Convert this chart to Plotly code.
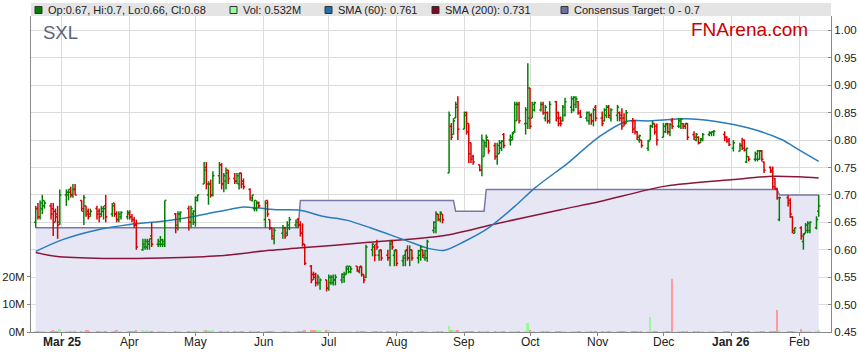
import pandas as pd
import plotly.graph_objects as go

# ---------------- data ----------------
holidays = ["2025-04-18", "2025-04-21", "2025-04-25", "2025-06-09",
            "2025-12-25", "2025-12-26", "2026-01-01", "2026-01-26"]

opens = [
    0.65, 0.675, 0.66, 0.675, 0.68, 0.68, 0.675, 0.67, 0.665, 0.65,
    0.70, 0.70, 0.705, 0.70, 0.71, 0.69, 0.67, 0.68, 0.67, 0.665, 0.675, 0.67, 0.665, 0.67, 0.68, 0.665, 0.685, 0.665, 0.655, 0.66, 0.66,
    0.665, 0.66, 0.655, 0.645, 0.60, 0.605, 0.605, 0.61, 0.625, 0.61, 0.61, 0.61, 0.61, 0.665, 0.645, 0.665, 0.675, 0.65, 0.665,
    0.65, 0.69, 0.72, 0.75, 0.70, 0.72, 0.70, 0.735, 0.755, 0.72, 0.725, 0.745, 0.73, 0.725, 0.72, 0.74, 0.725, 0.71, 0.69, 0.675, 0.675, 0.685,
    0.655, 0.69, 0.655, 0.64, 0.62, 0.63, 0.64, 0.63, 0.64, 0.645, 0.655, 0.645, 0.63, 0.61, 0.57, 0.555, 0.555, 0.54, 0.54, 0.545,
    0.53, 0.54, 0.54, 0.545, 0.545, 0.55, 0.555, 0.565, 0.56, 0.57, 0.56, 0.57, 0.555, 0.55, 0.60, 0.605, 0.61, 0.59, 0.60, 0.59, 0.585, 0.615, 0.59,
    0.60, 0.58, 0.59, 0.60, 0.585, 0.60, 0.585, 0.59, 0.60, 0.585, 0.585, 0.635, 0.64, 0.665, 0.655, 0.665, 0.74, 0.825, 0.81, 0.84, 0.86,
    0.82, 0.85, 0.83, 0.795, 0.77, 0.755, 0.745, 0.77, 0.79, 0.80, 0.79, 0.77, 0.775, 0.785, 0.81, 0.80, 0.80, 0.815, 0.835, 0.865, 0.83, 0.83,
    0.895, 0.84, 0.855, 0.855, 0.865, 0.84, 0.85, 0.835, 0.87, 0.85, 0.84, 0.835, 0.845, 0.86, 0.855, 0.865, 0.87, 0.85, 0.84, 0.835, 0.845, 0.835, 0.86,
    0.84, 0.835, 0.845, 0.86, 0.84, 0.845, 0.85, 0.845, 0.84, 0.83, 0.835, 0.835, 0.815, 0.80, 0.80, 0.785, 0.80, 0.825, 0.83, 0.825,
    0.805, 0.815, 0.83, 0.815, 0.835, 0.825, 0.825, 0.83, 0.825, 0.83, 0.81, 0.80, 0.805, 0.795, 0.80, 0.81, 0.813, 0.815, 0.81, 0.805, 0.80,
    0.785, 0.78, 0.79, 0.80, 0.76, 0.77, 0.765, 0.765, 0.765, 0.78, 0.76, 0.75, 0.745, 0.73, 0.71, 0.655, 0.695, 0.69, 0.66, 0.63,
    0.64, 0.615, 0.63, 0.635, 0.635, 0.64, 0.67,
]
highs = [
    0.68, 0.685, 0.69, 0.70, 0.69, 0.685, 0.685, 0.675, 0.68, 0.71,
    0.71, 0.71, 0.715, 0.72, 0.72, 0.69, 0.70, 0.68, 0.675, 0.675, 0.68, 0.675, 0.68, 0.68, 0.70, 0.685, 0.685, 0.67, 0.67, 0.67, 0.672,
    0.672, 0.665, 0.66, 0.655, 0.62, 0.62, 0.62, 0.62, 0.65, 0.62, 0.625, 0.62, 0.69, 0.667, 0.67, 0.67, 0.68, 0.68, 0.672,
    0.697, 0.70, 0.76, 0.76, 0.725, 0.728, 0.743, 0.76, 0.758, 0.74, 0.75, 0.746, 0.74, 0.74, 0.74, 0.74, 0.73, 0.712, 0.70, 0.69, 0.69, 0.688,
    0.69, 0.69, 0.655, 0.64, 0.64, 0.645, 0.642, 0.652, 0.66, 0.655, 0.658, 0.652, 0.648, 0.61, 0.572, 0.56, 0.558, 0.555, 0.548, 0.545,
    0.555, 0.554, 0.555, 0.555, 0.557, 0.56, 0.57, 0.57, 0.57, 0.57, 0.57, 0.57, 0.555, 0.609, 0.612, 0.609, 0.618, 0.60, 0.60, 0.60, 0.618, 0.618, 0.60,
    0.60, 0.59, 0.60, 0.608, 0.608, 0.60, 0.60, 0.608, 0.60, 0.60, 0.618, 0.652, 0.67, 0.665, 0.67, 0.665, 0.852, 0.831, 0.84, 0.87, 0.88,
    0.852, 0.852, 0.83, 0.795, 0.773, 0.755, 0.81, 0.80, 0.81, 0.80, 0.795, 0.795, 0.80, 0.80, 0.813, 0.81, 0.815, 0.87, 0.87, 0.87, 0.86, 0.94,
    0.895, 0.87, 0.87, 0.87, 0.87, 0.864, 0.852, 0.871, 0.871, 0.852, 0.843, 0.864, 0.877, 0.88, 0.88, 0.88, 0.871, 0.855, 0.852, 0.852, 0.849, 0.858, 0.864,
    0.852, 0.858, 0.864, 0.864, 0.858, 0.864, 0.852, 0.858, 0.849, 0.855, 0.84, 0.837, 0.816, 0.81, 0.80, 0.80, 0.828, 0.835, 0.83, 0.83,
    0.831, 0.831, 0.831, 0.831, 0.84, 0.84, 0.84, 0.831, 0.831, 0.831, 0.816, 0.813, 0.807, 0.804, 0.813, 0.816, 0.816, 0.818, 0.816, 0.807, 0.804,
    0.80, 0.795, 0.804, 0.801, 0.786, 0.77, 0.779, 0.782, 0.782, 0.782, 0.761, 0.752, 0.752, 0.731, 0.713, 0.697, 0.70, 0.694, 0.661, 0.64,
    0.643, 0.63, 0.649, 0.652, 0.652, 0.661, 0.70,
]
lows = [
    0.64, 0.655, 0.655, 0.665, 0.675, 0.655, 0.625, 0.65, 0.62, 0.645,
    0.68, 0.69, 0.695, 0.695, 0.70, 0.67, 0.645, 0.66, 0.655, 0.66, 0.655, 0.65, 0.66, 0.655, 0.65, 0.66, 0.66, 0.65, 0.65, 0.655, 0.655,
    0.655, 0.65, 0.64, 0.60, 0.598, 0.60, 0.60, 0.60, 0.605, 0.605, 0.605, 0.605, 0.605, 0.63, 0.635, 0.65, 0.635, 0.64, 0.645,
    0.642, 0.688, 0.72, 0.71, 0.682, 0.695, 0.697, 0.72, 0.71, 0.705, 0.71, 0.72, 0.72, 0.72, 0.71, 0.712, 0.71, 0.69, 0.688, 0.67, 0.67, 0.676,
    0.64, 0.66, 0.636, 0.618, 0.61, 0.62, 0.62, 0.625, 0.636, 0.64, 0.64, 0.624, 0.606, 0.572, 0.539, 0.545, 0.533, 0.535, 0.527, 0.524,
    0.525, 0.536, 0.535, 0.535, 0.539, 0.54, 0.555, 0.557, 0.557, 0.56, 0.557, 0.551, 0.539, 0.548, 0.588, 0.579, 0.60, 0.58, 0.58, 0.58, 0.57, 0.60, 0.57,
    0.57, 0.57, 0.57, 0.58, 0.57, 0.58, 0.575, 0.58, 0.585, 0.58, 0.578, 0.63, 0.63, 0.652, 0.65, 0.648, 0.74, 0.80, 0.81, 0.84, 0.80,
    0.82, 0.81, 0.758, 0.758, 0.755, 0.743, 0.734, 0.77, 0.786, 0.775, 0.764, 0.755, 0.775, 0.78, 0.785, 0.79, 0.80, 0.813, 0.835, 0.83, 0.81, 0.82,
    0.82, 0.84, 0.852, 0.852, 0.846, 0.834, 0.83, 0.83, 0.834, 0.825, 0.825, 0.834, 0.843, 0.849, 0.852, 0.858, 0.846, 0.84, 0.834, 0.828, 0.828, 0.825, 0.834,
    0.825, 0.834, 0.84, 0.84, 0.834, 0.834, 0.834, 0.819, 0.825, 0.83, 0.813, 0.81, 0.80, 0.795, 0.786, 0.78, 0.80, 0.822, 0.81, 0.79,
    0.805, 0.813, 0.81, 0.807, 0.82, 0.822, 0.82, 0.82, 0.82, 0.80, 0.80, 0.798, 0.792, 0.795, 0.798, 0.807, 0.807, 0.807, 0.798, 0.795, 0.789,
    0.779, 0.779, 0.782, 0.779, 0.758, 0.761, 0.761, 0.761, 0.764, 0.761, 0.74, 0.74, 0.71, 0.71, 0.691, 0.652, 0.679, 0.658, 0.63, 0.63,
    0.618, 0.60, 0.63, 0.63, 0.63, 0.637, 0.66,
]
closes = [
    0.675, 0.66, 0.685, 0.69, 0.685, 0.665, 0.65, 0.66, 0.645, 0.70,
    0.705, 0.71, 0.70, 0.71, 0.70, 0.675, 0.695, 0.665, 0.66, 0.67, 0.665, 0.66, 0.675, 0.675, 0.66, 0.68, 0.665, 0.655, 0.665, 0.668, 0.668,
    0.66, 0.655, 0.645, 0.605, 0.61, 0.615, 0.615, 0.62, 0.61, 0.615, 0.618, 0.615, 0.69, 0.64, 0.665, 0.668, 0.65, 0.675, 0.67,
    0.695, 0.70, 0.745, 0.72, 0.72, 0.70, 0.735, 0.755, 0.72, 0.735, 0.74, 0.73, 0.725, 0.735, 0.74, 0.72, 0.715, 0.695, 0.70, 0.69, 0.685, 0.68,
    0.685, 0.665, 0.64, 0.625, 0.635, 0.64, 0.625, 0.645, 0.655, 0.65, 0.645, 0.63, 0.61, 0.575, 0.545, 0.55, 0.54, 0.55, 0.545, 0.53,
    0.55, 0.55, 0.545, 0.55, 0.555, 0.555, 0.57, 0.57, 0.565, 0.562, 0.568, 0.555, 0.545, 0.605, 0.61, 0.59, 0.605, 0.598, 0.585, 0.585, 0.61, 0.605, 0.598,
    0.575, 0.585, 0.598, 0.585, 0.60, 0.585, 0.598, 0.605, 0.59, 0.598, 0.615, 0.65, 0.665, 0.655, 0.668, 0.655, 0.845, 0.805, 0.835, 0.865, 0.82,
    0.845, 0.815, 0.775, 0.765, 0.76, 0.745, 0.80, 0.795, 0.805, 0.78, 0.77, 0.79, 0.795, 0.798, 0.79, 0.805, 0.812, 0.865, 0.865, 0.835, 0.855, 0.84,
    0.825, 0.865, 0.868, 0.865, 0.85, 0.86, 0.835, 0.865, 0.84, 0.83, 0.83, 0.86, 0.87, 0.875, 0.878, 0.875, 0.85, 0.842, 0.85, 0.845, 0.835, 0.855, 0.84,
    0.83, 0.855, 0.86, 0.845, 0.855, 0.86, 0.84, 0.825, 0.83, 0.85, 0.82, 0.815, 0.805, 0.808, 0.79, 0.798, 0.825, 0.83, 0.815, 0.80,
    0.825, 0.828, 0.815, 0.828, 0.825, 0.835, 0.838, 0.825, 0.83, 0.805, 0.805, 0.81, 0.795, 0.802, 0.81, 0.813, 0.815, 0.816, 0.805, 0.798, 0.792,
    0.795, 0.79, 0.785, 0.782, 0.785, 0.765, 0.775, 0.78, 0.78, 0.765, 0.745, 0.742, 0.715, 0.712, 0.695, 0.695, 0.685, 0.665, 0.635, 0.64,
    0.625, 0.628, 0.645, 0.648, 0.65, 0.655, 0.68,
]
volumes_m = [
    0.2, 0.3, 0.2, 0.3, 0.3, 0.3, 0.4, 0.3, 0.3, 1.1,
    0.3, 0.2, 0.2, 0.3, 0.2, 0.3, 0.2, 0.6, 0.4, 0.2, 0.2, 0.2, 0.1, 0.2, 0.3, 0.2, 0.3, 0.4, 0.3, 0.2, 0.2,
    0.3, 0.2, 0.3, 0.7, 0.7, 0.3, 0.4, 0.2, 0.3, 0.2, 0.2, 0.3, 0.2, 0.2, 0.2, 0.2, 0.2, 0.2, 0.2,
    0.5, 0.2, 0.5, 0.4, 0.6, 0.3, 0.5, 0.3, 0.2, 0.2, 0.2, 0.2, 0.2, 0.1, 0.2, 0.2, 0.2, 0.2, 0.1, 0.1, 0.2, 0.2,
    0.2, 0.2, 0.3, 0.3, 0.2, 0.1, 0.2, 0.1, 0.2, 0.1, 0.2, 0.2, 0.3, 0.5, 0.4, 0.5, 0.4, 0.8, 0.6, 0.5,
    0.4, 0.2, 0.2, 0.2, 0.2, 0.1, 0.2, 0.1, 0.2, 0.2, 0.1, 0.3, 0.3, 0.3, 0.1, 0.2, 0.2, 0.2, 0.1, 0.2, 0.1, 0.1, 0.1,
    0.2, 0.1, 0.2, 0.1, 0.1, 0.2, 0.1, 0.1, 0.2, 0.1, 0.2, 0.1, 0.1, 0.1, 0.1, 0.2, 2.0, 0.6, 0.5, 0.4, 0.8,
    0.3, 0.2, 0.2, 0.2, 0.1, 0.1, 0.3, 0.3, 0.3, 0.3, 0.2, 0.3, 0.3, 0.2, 0.2, 0.1, 0.1, 0.1, 0.1, 0.2, 0.1, 3.1,
    0.7, 0.3, 0.2, 0.1, 0.3, 0.3, 0.1, 0.3, 0.2, 0.1, 0.1, 0.2, 0.2, 0.1, 0.1, 0.2, 0.1, 0.1, 0.1, 0.3, 0.3, 0.1, 0.2,
    0.2, 0.3, 0.3, 0.3, 0.3, 0.2, 0.3, 0.3, 0.3, 0.3, 0.3, 0.3, 0.3, 0.3, 0.3, 0.3, 5.3, 0.3, 0.2, 0.2,
    0.3, 0.2, 0.2, 0.2, 19.3, 0.2, 0.1, 0.1, 0.1, 0.1, 0.1, 0.1, 0.1, 0.2, 0.1, 0.1, 0.1, 0.05, 0.1, 0.1, 0.1,
    0.1, 0.1, 0.1, 0.2, 0.1, 0.1, 0.2, 0.3, 0.3, 0.3, 0.3, 0.2, 0.3, 0.2, 7.8, 0.6, 0.3, 0.3, 0.3, 0.3,
    1.0, 0.3, 0.3, 0.3, 0.3, 0.3, 0.532,
]

sma60_dates = ["2025-02-17", "2025-03-01", "2025-03-17", "2025-04-01", "2025-04-16", "2025-05-02",
               "2025-05-17", "2025-05-23", "2025-05-30", "2025-06-08", "2025-06-18", "2025-06-28",
               "2025-07-09", "2025-07-20", "2025-08-01", "2025-08-10", "2025-08-16", "2025-08-23",
               "2025-09-01", "2025-09-11", "2025-09-24", "2025-10-03", "2025-10-15", "2025-10-18",
               "2025-11-02", "2025-11-14", "2025-11-25", "2025-12-11", "2025-12-25", "2026-01-09",
               "2026-01-24", "2026-02-01", "2026-02-10"]
sma60_values = [0.597, 0.618, 0.636, 0.646, 0.652, 0.662, 0.674, 0.678, 0.676, 0.673, 0.672, 0.661,
                0.654, 0.640, 0.623, 0.610, 0.602, 0.599, 0.615, 0.637, 0.679, 0.712, 0.748, 0.757,
                0.807, 0.834, 0.835, 0.839, 0.834, 0.822, 0.801, 0.782, 0.761]

sma200_dates = ["2025-02-17", "2025-02-26", "2025-03-20", "2025-04-16", "2025-05-12", "2025-06-04",
                "2025-06-17", "2025-07-18", "2025-08-23", "2025-09-15", "2025-10-15", "2025-11-02",
                "2025-12-02", "2026-01-02", "2026-01-20", "2026-02-01", "2026-02-10"]
sma200_values = [0.595, 0.588, 0.584, 0.585, 0.589, 0.599, 0.603, 0.613, 0.626, 0.647, 0.673, 0.688,
                 0.716, 0.728, 0.734, 0.733, 0.731]

target_dates = ["2025-02-17", "2025-06-17", "2025-06-18", "2025-08-27", "2025-08-28",
                "2025-09-10", "2025-09-11", "2026-01-22", "2026-01-23", "2026-02-10"]
target_values = [0.64, 0.64, 0.69, 0.69, 0.67, 0.67, 0.71, 0.71, 0.70, 0.70]

month_ticks = ["2025-03-01", "2025-04-01", "2025-05-01", "2025-06-01", "2025-07-01", "2025-08-01",
               "2025-09-01", "2025-10-01", "2025-11-01", "2025-12-01", "2026-01-01", "2026-02-01"]
month_labels = ["<b>Mar 25</b>", "Apr", "May", "Jun", "Jul", "Aug", "Sep", "Oct", "Nov", "Dec",
                "<b>Jan 26</b>", "Feb"]

# ---------------- dates ----------------
days = pd.bdate_range("2025-02-17", "2026-02-10")
days = days[~days.isin(pd.to_datetime(holidays))]
n = len(days)
for name, arr in [("opens", opens), ("highs", highs), ("lows", lows), ("closes", closes), ("vol", volumes_m)]:
    if len(arr) != n:
        raise SystemExit(f"{name} has {len(arr)} values, expected {n}")

FONT = "Liberation Sans, Arial, sans-serif"
GREEN = "#008000"
RED = "#d80000"
TICKC = "#888888"

vol_colors = []
for o, c in zip(opens, closes):
    if c > o:
        vol_colors.append("#98fb98")
    elif c < o:
        vol_colors.append("#ff9a9a")
    else:
        vol_colors.append("#8c8c8c")

# OHLC bar paths (open tick left, close tick right), built from the data
tick = pd.Timedelta(hours=18)
up_x, up_y, dn_x, dn_y = [], [], [], []
for d, o, h, l, c in zip(days, opens, highs, lows, closes):
    xs = [d, d, None, d - tick, d, None, d, d + tick, None]
    ys = [l, h, None, o, o, None, c, c, None]
    if c >= o:
        up_x += xs
        up_y += ys
    else:
        dn_x += xs
        dn_y += ys

fig = go.Figure()

fig.add_trace(go.Scatter(
    x=target_dates, y=target_values, mode="lines",
    line=dict(color="#7878a6", width=1.5),
    fill="tozeroy", fillcolor="#e6e6f5", hoverinfo="skip", yaxis="y"))

fig.add_trace(go.Scatter(
    x=sma200_dates, y=sma200_values, mode="lines",
    line=dict(color="#8a1538", width=1.5, shape="spline", smoothing=0.8),
    hoverinfo="skip", yaxis="y"))

fig.add_trace(go.Scatter(
    x=sma60_dates, y=sma60_values, mode="lines",
    line=dict(color="#2a7cbc", width=1.5, shape="spline", smoothing=0.8),
    hoverinfo="skip", yaxis="y"))

fig.add_trace(go.Scatter(x=up_x, y=up_y, mode="lines", line=dict(color=GREEN, width=1.5),
                         connectgaps=False, hoverinfo="skip", yaxis="y"))
fig.add_trace(go.Scatter(x=dn_x, y=dn_y, mode="lines", line=dict(color=RED, width=1.5),
                         connectgaps=False, hoverinfo="skip", yaxis="y"))

fig.add_trace(go.Bar(
    x=days, y=[v * 1e6 for v in volumes_m], marker=dict(color=vol_colors, line=dict(width=0)),
    width=0.85 * 86400000, hoverinfo="skip", yaxis="y2"))

L, R, T, B = 31, 28, 16, 31
W, H = 859, 363
pw, ph = W - L - R, H - T - B


def px_x(x):
    return (x - L) / pw


def px_y(y):
    return (H - B - y) / ph


shapes = [dict(type="rect", xref="paper", yref="paper", x0=0, x1=1,
               y0=px_y(16), y1=px_y(3), fillcolor="#e4e4e4", line=dict(width=0), layer="above")]
annotations = []
legend_items = [
    (35, GREEN, "Op:0.67, Hi:0.7, Lo:0.66, Cl:0.68"),
    (230, "#98fb98", "Vol: 0.532M"),
    (325, "#1f6fb0", "SMA (60): 0.761"),
    (432, "#7a0a28", "SMA (200): 0.731"),
    (561, "#7070a0", "Consensus Target: 0 - 0.7"),
]
for xpix, col, txt in legend_items:
    shapes.append(dict(type="rect", xref="paper", yref="paper",
                       x0=px_x(xpix), x1=px_x(xpix + 7), y0=px_y(13.5), y1=px_y(6.5),
                       fillcolor=col, line=dict(color="#333333", width=1), layer="above"))
    annotations.append(dict(xref="paper", yref="paper", x=px_x(xpix + 11), y=px_y(10),
                            xanchor="left", yanchor="middle", showarrow=False, text=txt,
                            font=dict(family=FONT, size=11, color="#222222")))

annotations.append(dict(xref="paper", yref="paper", x=px_x(41), y=px_y(32),
                        xanchor="left", yanchor="middle", showarrow=False, text="SXL",
                        font=dict(family=FONT, size=18.5, color="#5a6478")))
annotations.append(dict(xref="paper", yref="paper", x=px_x(810), y=px_y(29),
                        xanchor="right", yanchor="middle", showarrow=False, text="FNArena.com",
                        font=dict(family=FONT, size=19, color="#cc0000")))

# month labels placed on the date scale, just under the axis
for tv, tt in zip(month_ticks, month_labels):
    annotations.append(dict(xref="x", yref="paper", x=tv, y=px_y(341.5),
                            xanchor="center", yanchor="middle", showarrow=False, text=tt,
                            font=dict(family=FONT, size=12, color="#222222")))

fig.update_layout(
    width=W, height=H, margin=dict(l=L, r=R, t=T, b=B, pad=0, autoexpand=False),
    paper_bgcolor="white", plot_bgcolor="white", showlegend=False,
    font=dict(family=FONT, size=12, color="#222222"),
    xaxis=dict(type="date", range=["2025-02-14 20:00", "2026-02-15 15:00"],
               tickvals=month_ticks, showticklabels=False, showgrid=True, gridcolor="#dcdcdc",
               ticks="outside", ticklen=3, tickcolor=TICKC, showline=True, linecolor=TICKC,
               linewidth=1, zeroline=False, automargin=False),
    yaxis=dict(side="right", range=[0.45, 1.0262], tick0=0.45, dtick=0.05, tickformat=".2f",
               showgrid=True, gridcolor="#dcdcdc", ticks="inside", ticklen=3, tickcolor=TICKC,
               showline=True, linecolor=TICKC, linewidth=1, zeroline=False, automargin=False,
               tickfont=dict(family=FONT, size=11.5, color="#222222")),
    yaxis2=dict(overlaying="y", side="left", range=[0, 114.1e6], tickvals=[0, 10e6, 20e6],
                ticktext=["0M", "10M", "20M"], showgrid=False, ticks="outside", ticklen=3,
                tickcolor=TICKC, showline=True, linecolor=TICKC, linewidth=1, zeroline=False,
                automargin=False, tickfont=dict(family=FONT, size=11.5, color="#222222")),
    shapes=shapes, annotations=annotations, bargap=0,
)

fig.write_html("out.html", include_plotlyjs=True, config={"displayModeBar": False},
               post_script="document.body.style.margin='0px';document.body.style.overflow='hidden';")
